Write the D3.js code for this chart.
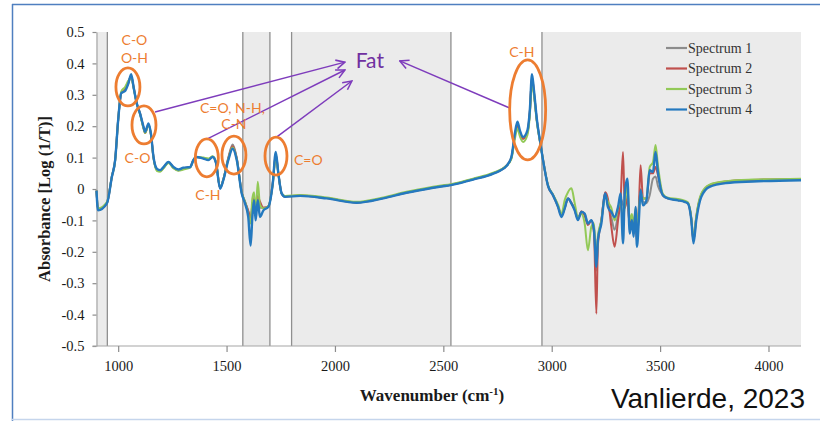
<!DOCTYPE html>
<html>
<head>
<meta charset="utf-8">
<script src="https://cdn.jsdelivr.net/npm/d3@7"></script>
<style>
body { margin: 0; background: #fff; }
svg { display: block; }
</style>
</head>
<body>
<svg id="chart" width="820" height="421"></svg>
<script>
// wavenumber grid shared by the four spectra (cm-1)
let wavenumbers = [
  900, 907, 948, 971, 986, 1000, 1014, 1032, 1047, 1060,
  1071, 1086, 1101, 1117, 1124, 1140, 1151, 1163, 1178, 1194,
  1209, 1232, 1255, 1278, 1301, 1332, 1347, 1359, 1393, 1416,
  1436, 1452, 1470, 1485, 1508, 1528, 1547, 1570, 1585, 1600,
  1611, 1619, 1627, 1634, 1644, 1654, 1670, 1693, 1713, 1727,
  1739, 1754, 1770, 1839, 1962, 2100, 2223, 2330, 2453, 2545,
  2637, 2730, 2791, 2814, 2830, 2842, 2853, 2868, 2888, 2899,
  2909, 2918, 2932, 2948, 2960, 2983, 3006, 3029, 3045, 3060,
  3075, 3091, 3106, 3121, 3137, 3152, 3167, 3183, 3195, 3206,
  3213, 3229, 3247, 3259, 3275, 3290, 3306, 3318, 3329, 3337,
  3349, 3360, 3370, 3378, 3387, 3393, 3402, 3410, 3421, 3437,
  3452, 3467, 3479, 3490, 3513, 3536, 3582, 3613, 3628, 3644,
  3654, 3667, 3690, 3728, 3805, 3928, 4150]

let spectrum1 = [
  -0.005, -0.066, -0.045, 0.04, 0.092, 0.22, 0.305, 0.318, 0.34, 0.36,
  0.325, 0.272, 0.24, 0.195, 0.18, 0.205, 0.175, 0.1, 0.063, 0.058,
  0.068, 0.085, 0.068, 0.06, 0.066, 0.07, 0.092, 0.102, 0.098, 0.094,
  0.103, 0.082, 0.003, 0.03, 0.1, 0.142, 0.1, -0.01, -0.04, -0.07,
  -0.1, -0.06, -0.03, -0.07, -0.02, -0.06, -0.06, -0.055, 0.018, 0.112,
  0.05, -0.014, -0.024, -0.021, -0.029, -0.043, -0.029, -0.011, 0.005, 0.015,
  0.031, 0.05, 0.074, 0.1, 0.17, 0.205, 0.18, 0.16, 0.18, 0.245,
  0.355, 0.308, 0.215, 0.143, 0.092, 0.01, -0.02, -0.055, -0.085, -0.06,
  -0.03, -0.045, -0.066, -0.095, -0.072, -0.08, -0.11, -0.1, -0.13, -0.26,
  -0.16, -0.1, -0.012, -0.05, -0.09, -0.13, -0.08, -0.03, -0.05, -0.06,
  -0.02, -0.12, -0.09, -0.14, -0.07, -0.17, -0.06, 0.0, -0.04, -0.045,
  -0.02, 0.033, 0.04, 0.01, -0.02, -0.03, -0.035, -0.04, -0.045, -0.095,
  -0.165, -0.09, -0.02, 0.01, 0.022, 0.027, 0.03]

let spectrum2 = [
  -0.005, -0.066, -0.045, 0.04, 0.092, 0.22, 0.305, 0.316, 0.338, 0.36,
  0.325, 0.272, 0.24, 0.195, 0.178, 0.205, 0.175, 0.1, 0.063, 0.058,
  0.068, 0.085, 0.068, 0.06, 0.066, 0.07, 0.092, 0.102, 0.098, 0.094,
  0.103, 0.082, 0.003, 0.03, 0.097, 0.136, 0.097, -0.012, -0.042, -0.07,
  -0.095, -0.05, -0.03, -0.07, -0.025, -0.04, -0.06, -0.055, 0.018, 0.11,
  0.05, -0.014, -0.024, -0.021, -0.029, -0.043, -0.029, -0.011, 0.005, 0.015,
  0.031, 0.05, 0.074, 0.1, 0.17, 0.205, 0.18, 0.16, 0.18, 0.245,
  0.355, 0.308, 0.215, 0.143, 0.092, 0.01, -0.02, -0.055, -0.085, -0.06,
  -0.03, -0.045, -0.066, -0.095, -0.072, -0.085, -0.115, -0.1, -0.14, -0.397,
  -0.18, -0.1, -0.01, -0.03, -0.12, -0.184, -0.1, -0.03, 0.118, -0.06,
  -0.03, -0.12, -0.09, -0.13, -0.07, -0.17, -0.06, 0.076, -0.03, -0.03,
  0.05, 0.05, 0.07, 0.045, -0.02, -0.03, -0.035, -0.04, -0.045, -0.095,
  -0.165, -0.09, -0.018, 0.012, 0.024, 0.029, 0.032]

let spectrum3 = [
  -0.005, -0.062, -0.042, 0.04, 0.09, 0.22, 0.31, 0.325, 0.345, 0.355,
  0.322, 0.27, 0.238, 0.192, 0.178, 0.203, 0.173, 0.098, 0.058, 0.055,
  0.066, 0.083, 0.066, 0.058, 0.062, 0.068, 0.092, 0.102, 0.1, 0.097,
  0.104, 0.083, 0.004, 0.03, 0.095, 0.132, 0.095, -0.012, -0.04, -0.08,
  -0.11, -0.03, -0.01, -0.08, 0.023, -0.05, -0.062, -0.055, 0.015, 0.1,
  0.048, -0.014, -0.022, -0.019, -0.027, -0.041, -0.027, -0.009, 0.007, 0.017,
  0.033, 0.052, 0.074, 0.096, 0.16, 0.192, 0.168, 0.15, 0.172, 0.235,
  0.342, 0.298, 0.21, 0.142, 0.092, 0.012, -0.018, -0.05, -0.08, -0.035,
  -0.01, 0.002, -0.045, -0.09, -0.08, -0.11, -0.195, -0.12, -0.11, -0.23,
  -0.15, -0.1, -0.02, -0.04, -0.06, -0.1, -0.06, -0.04, -0.1, -0.05,
  0.01, -0.1, -0.08, -0.12, -0.06, -0.12, -0.07, -0.01, -0.03, -0.03,
  0.07, 0.085, 0.14, 0.075, -0.016, -0.028, -0.032, -0.037, -0.042, -0.09,
  -0.16, -0.085, -0.015, 0.014, 0.025, 0.03, 0.033]

let spectrum4 = [
  -0.005, -0.068, -0.046, 0.039, 0.092, 0.22, 0.305, 0.312, 0.336, 0.366,
  0.325, 0.272, 0.24, 0.198, 0.182, 0.209, 0.177, 0.102, 0.065, 0.06,
  0.07, 0.086, 0.07, 0.062, 0.068, 0.07, 0.092, 0.102, 0.097, 0.092,
  0.102, 0.081, 0.001, 0.028, 0.092, 0.128, 0.092, -0.014, -0.046, -0.089,
  -0.18, -0.089, -0.036, -0.1, -0.036, -0.089, -0.068, -0.057, 0.017, 0.118,
  0.049, -0.014, -0.025, -0.022, -0.03, -0.044, -0.03, -0.012, 0.004, 0.014,
  0.03, 0.049, 0.073, 0.102, 0.177, 0.214, 0.187, 0.166, 0.187, 0.251,
  0.366, 0.315, 0.219, 0.145, 0.092, 0.01, -0.02, -0.057, -0.089, -0.062,
  -0.03, -0.046, -0.068, -0.099, -0.073, -0.078, -0.11, -0.099, -0.131, -0.248,
  -0.163, -0.11, -0.014, -0.057, -0.073, -0.089, -0.057, -0.014, -0.173, -0.014,
  0.033, -0.142, -0.099, -0.152, -0.057, -0.184, -0.099, -0.004, -0.052, -0.036,
  0.06, 0.054, 0.118, 0.054, -0.02, -0.03, -0.036, -0.041, -0.046, -0.099,
  -0.173, -0.099, -0.025, 0.007, 0.019, 0.024, 0.028]

let seriesNames = ["Spectrum 1", "Spectrum 2", "Spectrum 3", "Spectrum 4"]
let seriesColors = ["#8c8c8c", "#c0504d", "#92c957", "#2479bf"]

let xTicks = [1000, 1500, 2000, 2500, 3000, 3500, 4000]
let yTicks = [0.5, 0.4, 0.3, 0.2, 0.1, 0, -0.1, -0.2, -0.3, -0.4, -0.5]

// grey shaded spectral regions and their border lines
let shadedBands = [[900, 950], [1575, 1700], [1800, 2535], [2955, 4150]]
let bandEdges = [950, 1575, 1700, 1800, 2535, 2955]

// orange circled peaks [wavenumber, absorbance, rx, ry]
let peakCircles = [[1045, 0.325, 12, 19], [1119, 0.204, 12, 19], [1409, 0.099, 11.5, 19],
                   [1534, 0.108, 12, 19], [1728, 0.105, 11, 19], [2889, 0.252, 18, 50]]
// orange labels [text, wavenumber, absorbance, anchor]
let peakLabels = [["C-O", 1075, 0.459, "middle"], ["O-H", 1075, 0.401, "middle"],
                  ["C-O", 1089, 0.083, "middle"], ["C=O, N-H,", 1527, 0.242, "middle"],
                  ["C-N", 1534, 0.191, "middle"], ["C-H", 1414, -0.035, "middle"],
                  ["C=O", 1811, 0.076, "start"], ["C-H", 2862, 0.42, "middle"]]
// purple arrows pointing to "Fat" [from w, from a, to w, to a]
let fatArrows = [[1170, 0.245, 2046, 0.404], [1409, 0.159, 2046, 0.379],
                 [1732, 0.166, 2078, 0.344], [2806, 0.258, 2299, 0.408]]
let fatLabel = ["Fat", 2161, 0.385]

let width = 820
let height = 421
let plotBox = {left: 96.5, right: 801, top: 32, bottom: 346}

let svg = d3.select("#chart")

let x = d3.scaleLinear().domain([900, 4150]).range([plotBox.left, plotBox.right])
let y = d3.scaleLinear().domain([-0.5, 0.5]).range([plotBox.bottom, plotBox.top])

// slide frame
svg.append("line").attr("x1", 12).attr("x2", width).attr("y1", 4.5).attr("y2", 4.5)
   .attr("stroke", "#4f7fc0").attr("stroke-width", 1.5)
svg.append("line").attr("x1", 12.5).attr("x2", 12.5).attr("y1", 4).attr("y2", height)
   .attr("stroke", "#4f7fc0").attr("stroke-width", 1.5)
svg.append("line").attr("x1", 12).attr("x2", width).attr("y1", 419.5).attr("y2", 419.5)
   .attr("stroke", "#c5d5ec").attr("stroke-width", 1.5)

svg.append("g").selectAll("rect")
   .data(shadedBands)
   .join("rect")
   .attr("x", d => x(d[0]))
   .attr("width", d => x(d[1]) - x(d[0]))
   .attr("y", plotBox.top)
   .attr("height", plotBox.bottom - plotBox.top)
   .attr("fill", "#ebebeb")

svg.append("g").selectAll("line")
   .data(bandEdges)
   .join("line")
   .attr("x1", d => x(d)).attr("x2", d => x(d))
   .attr("y1", plotBox.top).attr("y2", plotBox.bottom)
   .attr("stroke", "#8f8f8f")
   .attr("stroke-width", 1.3)

// axes
let yAxis = svg.append("g")
   .attr("transform", "translate(" + plotBox.left + ",0)")
   .call(d3.axisLeft(y).tickValues(yTicks).tickSize(4).tickSizeOuter(0).tickPadding(8)
   .tickFormat(d => String(d)))
let xAxis = svg.append("g")
   .attr("transform", "translate(0," + plotBox.bottom + ")")
   .call(d3.axisBottom(x).tickValues(xTicks).tickSize(6).tickSizeOuter(0).tickPadding(9)
   .tickFormat(d => String(d)))
xAxis.select(".domain").attr("d", "M" + (plotBox.left - 4) + ",0H" + plotBox.right)

for (let ax of [xAxis, yAxis]) {
    ax.select(".domain").attr("stroke", "#a6a6a6").attr("stroke-width", 1.2)
    ax.selectAll(".tick line").attr("stroke", "#8c8c8c").attr("stroke-width", 1.2)
    ax.selectAll(".tick text")
      .attr("font-family", "Liberation Serif")
      .attr("font-size", 14.5)
      .attr("fill", "#1a1a1a")
}

svg.append("text")
   .attr("transform", "translate(50,199) rotate(-90)")
   .attr("text-anchor", "middle")
   .attr("font-family", "Liberation Serif")
   .attr("font-weight", "bold")
   .attr("font-size", 16.5)
   .attr("fill", "#1a1a1a")
   .text("Absorbance  [Log (1/T)]")

let xlabel = svg.append("text")
   .attr("x", 432)
   .attr("y", 401)
   .attr("text-anchor", "middle")
   .attr("font-family", "Liberation Serif")
   .attr("font-weight", "bold")
   .attr("font-size", 17)
   .attr("fill", "#1a1a1a")
xlabel.append("tspan").text("Wavenumber (cm")
xlabel.append("tspan").attr("dy", -6).attr("font-size", 11).text("-1")
xlabel.append("tspan").attr("dy", 6).text(")")

svg.append("text")
   .attr("x", 805)
   .attr("y", 408)
   .attr("text-anchor", "end")
   .attr("font-family", "Liberation Sans")
   .attr("font-size", 28)
   .attr("fill", "#111")
   .text("Vanlierde, 2023")

// spectra
let allSeries = [spectrum1, spectrum2, spectrum3, spectrum4]
let line = d3.line()
   .x(d => x(d[0]))
   .y(d => y(d[1]))
   .curve(d3.curveMonotoneX)

svg.append("g").selectAll("path")
   .data(allSeries)
   .join("path")
   .attr("d", vals => line(wavenumbers.map((w, i) => [w, vals[i]])))
   .attr("fill", "none")
   .attr("stroke", (d, i) => seriesColors[i])
   .attr("stroke-width", (d, i) => i == 3 ? 2.4 : 2)
   .attr("stroke-linejoin", "round")

// legend
let legend = svg.append("g").attr("transform", "translate(666,48)")
legend.selectAll("line")
   .data(seriesNames)
   .join("line")
   .attr("x1", 0).attr("x2", 21)
   .attr("y1", (d, i) => i * 20.5).attr("y2", (d, i) => i * 20.5)
   .attr("stroke", (d, i) => seriesColors[i])
   .attr("stroke-width", 2.2)
legend.selectAll("text")
   .data(seriesNames)
   .join("text")
   .attr("x", 22)
   .attr("y", (d, i) => i * 20.5)
   .attr("dy", "0.35em")
   .attr("font-family", "Liberation Serif")
   .attr("font-size", 14)
   .attr("fill", "#333")
   .text(d => d)

// annotations
svg.append("defs").append("marker")
   .attr("id", "arrow")
   .attr("viewBox", "0 0 10 10")
   .attr("refX", 9).attr("refY", 5)
   .attr("markerWidth", 11).attr("markerHeight", 11)
   .attr("markerUnits", "userSpaceOnUse")
   .attr("orient", "auto")
   .append("path")
   .attr("d", "M1,1 L9,5 L1,9")
   .attr("fill", "none")
   .attr("stroke", "#7e3cbc")
   .attr("stroke-width", 1.4)

svg.append("g").selectAll("line")
   .data(fatArrows)
   .join("line")
   .attr("x1", d => x(d[0])).attr("y1", d => y(d[1]))
   .attr("x2", d => x(d[2])).attr("y2", d => y(d[3]))
   .attr("stroke", "#7e3cbc")
   .attr("stroke-width", 1.5)
   .attr("marker-end", "url(#arrow)")

svg.append("g").selectAll("ellipse")
   .data(peakCircles)
   .join("ellipse")
   .attr("cx", d => x(d[0])).attr("cy", d => y(d[1]))
   .attr("rx", d => d[2]).attr("ry", d => d[3])
   .attr("fill", "none")
   .attr("stroke", "#ed7d31")
   .attr("stroke-width", 2.8)

svg.append("g").selectAll("text")
   .data(peakLabels)
   .join("text")
   .attr("x", d => x(d[1])).attr("y", d => y(d[2]))
   .attr("text-anchor", d => d[3])
   .attr("font-family", "Lato")
   .attr("font-size", 14)
   .attr("fill", "#ed7d31")
   .text(d => d[0])

svg.append("text")
   .attr("x", x(fatLabel[1])).attr("y", y(fatLabel[2]))
   .attr("text-anchor", "middle")
   .attr("font-family", "Lato")
   .attr("font-size", 21)
   .attr("fill", "#7030a0")
   .text(fatLabel[0])
</script>
</body>
</html>
